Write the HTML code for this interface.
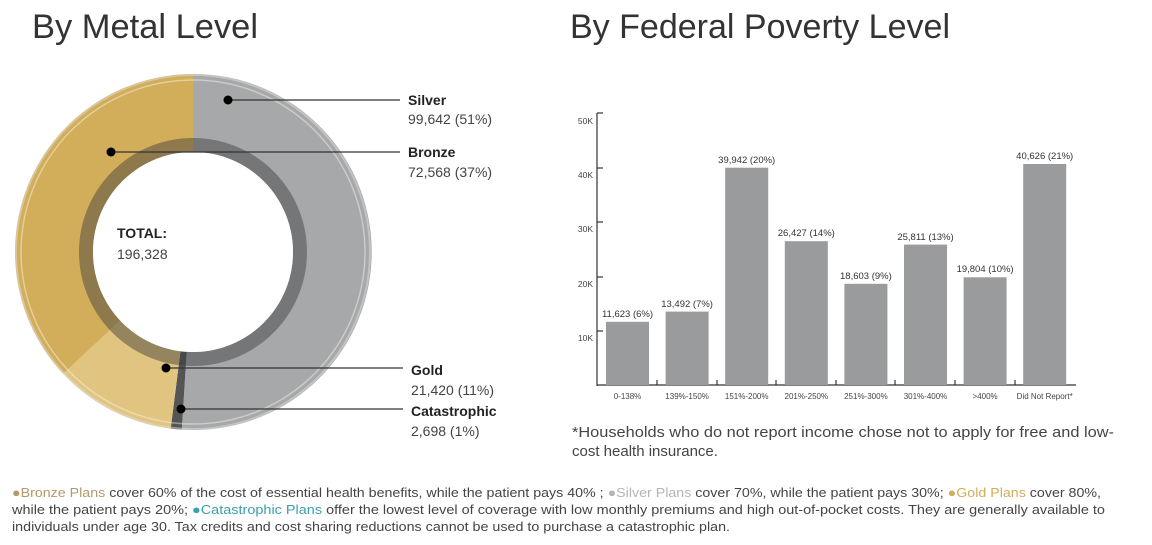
<!DOCTYPE html>
<html><head><meta charset="utf-8"><style>
html,body{margin:0;padding:0;background:#fff;}
svg{display:block;font-family:"Liberation Sans",sans-serif;}
</style></head><body>
<svg width="1152" height="545" viewBox="0 0 1152 545" xmlns="http://www.w3.org/2000/svg">
<text x="32" y="38" font-size="34" fill="#333" textLength="226" lengthAdjust="spacingAndGlyphs">By Metal Level</text>
<text x="570" y="38" font-size="34" fill="#333" textLength="380" lengthAdjust="spacingAndGlyphs">By Federal Poverty Level</text>

<!-- donut -->
<path d="M193,74 A178,178 0 1 1 181.8,429.6 L186.7,351.8 A100,100 0 1 0 193,152 Z" fill="#a7a8a9"/>
<path d="M181.8,429.6 A178,178 0 0 1 170.7,428.6 L180.5,351.2 A100,100 0 0 0 186.7,351.8 Z" fill="#555"/>
<path d="M170.7,428.6 A178,178 0 0 1 63.2,373.8 L120.1,320.5 A100,100 0 0 0 180.5,351.2 Z" fill="#e0c47f"/>
<path d="M63.2,373.8 A178,178 0 0 1 193,74 L193,152 A100,100 0 0 0 120.1,320.5 Z" fill="#d2ad5a"/>
<circle cx="193" cy="252" r="177" fill="none" stroke="#ddd" stroke-opacity="0.5" stroke-width="2"/>
<circle cx="193" cy="252" r="172" fill="none" stroke="#fff" stroke-opacity="0.4" stroke-width="1.5"/>
<circle cx="193" cy="252" r="107" fill="none" stroke="#3a3a3a" stroke-opacity="0.45" stroke-width="14"/>
<circle cx="193" cy="252" r="100" fill="#fff"/>
<text x="117" y="238" font-size="14" font-weight="bold" fill="#222">TOTAL:</text>
<text x="117" y="259" font-size="14" fill="#444">196,328</text>

<g stroke="#333" stroke-width="1.2">
<line x1="228" y1="100" x2="400" y2="100"/>
<line x1="111" y1="152" x2="400" y2="152"/>
<line x1="166" y1="368" x2="403" y2="368"/>
<line x1="181" y1="409" x2="403" y2="409"/>
</g>
<g fill="#000">
<circle cx="228" cy="100" r="4.5"/><circle cx="111" cy="152" r="4.5"/>
<circle cx="166" cy="368" r="4.5"/><circle cx="181" cy="409" r="4.5"/>
</g>
<g font-size="14">
<text x="408" y="105" font-weight="bold" fill="#222">Silver</text>
<text x="408" y="124" fill="#444">99,642 (51%)</text>
<text x="408" y="157" font-weight="bold" fill="#222">Bronze</text>
<text x="408" y="177" fill="#444">72,568 (37%)</text>
<text x="411" y="375" font-weight="bold" fill="#222">Gold</text>
<text x="411" y="395" fill="#444">21,420 (11%)</text>
<text x="411" y="416" font-weight="bold" fill="#222">Catastrophic</text>
<text x="411" y="436" fill="#444">2,698 (1%)</text>
</g>

<!-- bar chart -->
<g stroke="#333" stroke-width="1.2" fill="none">
<line x1="597" y1="113" x2="597" y2="386"/>
<line x1="597" y1="385" x2="1076" y2="385"/>
<line x1="597" y1="113" x2="603" y2="113"/>
<line x1="597" y1="168" x2="603" y2="168"/>
<line x1="597" y1="222" x2="603" y2="222"/>
<line x1="597" y1="277" x2="603" y2="277"/>
<line x1="597" y1="331" x2="603" y2="331"/>
<line x1="657" y1="380" x2="657" y2="385"/>
<line x1="717" y1="380" x2="717" y2="385"/>
<line x1="776" y1="380" x2="776" y2="385"/>
<line x1="836" y1="380" x2="836" y2="385"/>
<line x1="895" y1="380" x2="895" y2="385"/>
<line x1="955" y1="380" x2="955" y2="385"/>
<line x1="1015" y1="380" x2="1015" y2="385"/>
</g>
<g font-size="8.5" fill="#444" text-anchor="end">
<text x="593" y="124">50K</text><text x="593" y="178">40K</text>
<text x="593" y="232">30K</text><text x="593" y="287">20K</text>
<text x="593" y="341">10K</text>
</g>
<g fill="#9a9b9d">
<rect x="606" y="321.8" width="43" height="63.2"/>
<rect x="665.6" y="311.6" width="43" height="73.4"/>
<rect x="725.2" y="167.7" width="43" height="217.3"/>
<rect x="784.8" y="241.2" width="43" height="143.8"/>
<rect x="844.4" y="283.8" width="43" height="101.2"/>
<rect x="904" y="244.6" width="43" height="140.4"/>
<rect x="963.6" y="277.3" width="43" height="107.7"/>
<rect x="1023.2" y="164" width="43" height="221"/>
</g>
<g font-size="9.5" fill="#333" text-anchor="middle">
<text x="627.5" y="317">11,623 (6%)</text>
<text x="687.1" y="307">13,492 (7%)</text>
<text x="746.7" y="163">39,942 (20%)</text>
<text x="806.3" y="236">26,427 (14%)</text>
<text x="865.9" y="279">18,603 (9%)</text>
<text x="925.5" y="240">25,811 (13%)</text>
<text x="985.1" y="272">19,804 (10%)</text>
<text x="1044.7" y="159">40,626 (21%)</text>
</g>
<g font-size="8" fill="#444" text-anchor="middle">
<text x="627.5" y="399">0-138%</text>
<text x="687.1" y="399">139%-150%</text>
<text x="746.7" y="399">151%-200%</text>
<text x="806.3" y="399">201%-250%</text>
<text x="865.9" y="399">251%-300%</text>
<text x="925.5" y="399">301%-400%</text>
<text x="985.1" y="399">&gt;400%</text>
<text x="1044.7" y="399">Did Not Report*</text>
</g>
<text x="572" y="437" font-size="15" fill="#444" textLength="542" lengthAdjust="spacingAndGlyphs">*Households who do not report income chose not to apply for free and low-</text>
<text x="572" y="456" font-size="15" fill="#444">cost health insurance.</text>

<!-- footnote -->
<g font-size="13" fill="#444">
<text x="12" y="497" textLength="1089" lengthAdjust="spacingAndGlyphs"><tspan fill="#b39a6a">●Bronze Plans</tspan> cover 60% of the cost of essential health benefits, while the patient pays 40% ; <tspan fill="#b5b5b5">●Silver Plans</tspan> cover 70%, while the patient pays 30%; <tspan fill="#d2ad5a">●Gold Plans</tspan> cover 80%,</text>
<text x="12" y="514" textLength="1093" lengthAdjust="spacingAndGlyphs">while the patient pays 20%; <tspan fill="#3a9fad">●Catastrophic Plans</tspan> offer the lowest level of coverage with low monthly premiums and high out-of-pocket costs. They are generally available to</text>
<text x="12" y="531" textLength="718" lengthAdjust="spacingAndGlyphs">individuals under age 30. Tax credits and cost sharing reductions cannot be used to purchase a catastrophic plan.</text>
</g>
</svg>
</body></html>
